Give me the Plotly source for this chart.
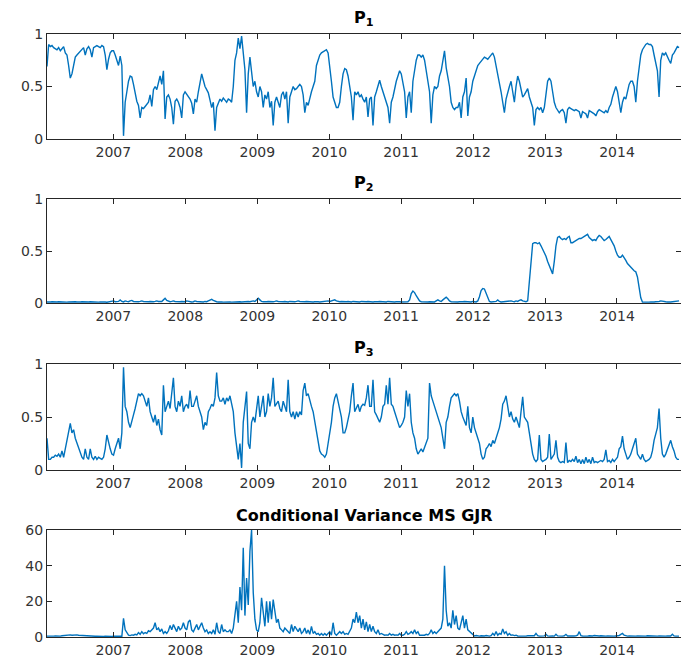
import pandas as pd
import plotly.graph_objects as go

# Smoothed regime probabilities and conditional variance, Jan 2006 - Nov 2014
start_date = "2006-01-29"
end_date = "2014-11-12"
year_ticks = [2007, 2008, 2009, 2010, 2011, 2012, 2013, 2014]
prob_ticks = [0, 0.5, 1]
prob_tick_text = ["0", "0.5", "1"]
var_ticks = [0, 20, 40, 60]

p1 = [
    0.69, 0.90, 0.88, 0.89, 0.87, 0.86, 0.85, 0.87, 0.84, 0.86,
    0.88, 0.82, 0.80, 0.70, 0.58, 0.62, 0.72, 0.78, 0.80, 0.82,
    0.84, 0.86, 0.87, 0.80, 0.86, 0.88, 0.85, 0.78, 0.87, 0.88,
    0.89, 0.88, 0.87, 0.89, 0.88, 0.80, 0.66, 0.76, 0.82, 0.84,
    0.84, 0.80, 0.74, 0.70, 0.79, 0.70, 0.03, 0.35, 0.45, 0.55,
    0.60, 0.59, 0.52, 0.44, 0.36, 0.32, 0.20, 0.30, 0.29, 0.31,
    0.33, 0.35, 0.42, 0.31, 0.47, 0.50, 0.47, 0.55, 0.60, 0.52,
    0.65, 0.19, 0.40, 0.42, 0.38, 0.30, 0.14, 0.36, 0.38, 0.35,
    0.30, 0.20, 0.42, 0.45, 0.43, 0.41, 0.38, 0.34, 0.24, 0.38,
    0.35, 0.45, 0.55, 0.62, 0.56, 0.50, 0.47, 0.44, 0.37, 0.30,
    0.35, 0.08, 0.30, 0.35, 0.38, 0.36, 0.39, 0.37, 0.35, 0.38,
    0.37, 0.35, 0.50, 0.75, 0.82, 0.96, 0.86, 0.98, 0.80, 0.66,
    0.25, 0.62, 0.78, 0.60, 0.50, 0.55, 0.45, 0.40, 0.50, 0.45,
    0.30, 0.42, 0.38, 0.45, 0.30, 0.36, 0.13, 0.35, 0.40, 0.35,
    0.30, 0.42, 0.45, 0.38, 0.45, 0.15, 0.40, 0.45, 0.50, 0.47,
    0.48, 0.50, 0.52, 0.50, 0.42, 0.25, 0.35, 0.32, 0.40, 0.45,
    0.50, 0.55, 0.70, 0.75, 0.80, 0.82, 0.83, 0.84, 0.85, 0.82,
    0.70, 0.55, 0.40, 0.35, 0.30, 0.30, 0.35,
    0.50, 0.62, 0.67, 0.66, 0.60, 0.50, 0.40, 0.18, 0.45, 0.42,
    0.45, 0.40, 0.42, 0.38, 0.35, 0.40, 0.21, 0.38, 0.40, 0.13,
    0.40, 0.45, 0.50, 0.56, 0.50, 0.45, 0.40, 0.35, 0.30, 0.15,
    0.35, 0.40, 0.48, 0.55, 0.60, 0.65, 0.62, 0.55, 0.45, 0.20,
    0.40, 0.45, 0.25, 0.55, 0.65, 0.75, 0.80, 0.80, 0.78, 0.80,
    0.75, 0.65, 0.55, 0.45, 0.15, 0.42, 0.50, 0.48, 0.50, 0.60,
    0.65, 0.75, 0.84, 0.68, 0.60, 0.50, 0.35, 0.30, 0.28, 0.30,
    0.30, 0.35, 0.20, 0.40, 0.45, 0.58, 0.22, 0.40, 0.45, 0.55,
    0.60, 0.65, 0.70, 0.72, 0.74, 0.75, 0.78, 0.77, 0.76, 0.78,
    0.80, 0.82, 0.78, 0.70, 0.60, 0.55, 0.45, 0.35, 0.25, 0.38,
    0.45, 0.50, 0.55, 0.45, 0.35, 0.50, 0.60, 0.55, 0.48, 0.40,
    0.42, 0.45, 0.48, 0.40, 0.35, 0.30, 0.13, 0.28, 0.30, 0.28,
    0.30, 0.25, 0.30, 0.45, 0.55, 0.58, 0.55, 0.45, 0.35, 0.30,
    0.28, 0.25, 0.27, 0.28, 0.25, 0.15, 0.28, 0.30, 0.29, 0.28,
    0.27, 0.28, 0.27, 0.26, 0.20, 0.26, 0.25, 0.24, 0.20, 0.27,
    0.26, 0.25, 0.24, 0.22, 0.26, 0.28, 0.27, 0.26, 0.25, 0.27,
    0.25, 0.30, 0.33, 0.40, 0.45, 0.50, 0.45, 0.35, 0.25, 0.35,
    0.40, 0.38, 0.45, 0.52, 0.55, 0.55, 0.50, 0.35, 0.55, 0.70,
    0.80, 0.85, 0.88, 0.90, 0.91, 0.90, 0.90, 0.88, 0.80, 0.72,
    0.65, 0.40, 0.75, 0.82, 0.80, 0.82, 0.78, 0.75, 0.72, 0.80,
    0.82, 0.85, 0.88, 0.87,
]

p2 = [
    0.010, 0.008, 0.010, 0.012, 0.010, 0.008, 0.010, 0.012, 0.010, 0.010,
    0.012, 0.010, 0.008, 0.010, 0.012, 0.010, 0.010, 0.012, 0.010, 0.008,
    0.010, 0.012, 0.010, 0.010, 0.008, 0.010, 0.012, 0.010, 0.010, 0.012,
    0.010, 0.008, 0.010, 0.012, 0.010, 0.010, 0.008, 0.010, 0.012, 0.015,
    0.020, 0.012, 0.010, 0.015, 0.030, 0.015, 0.010, 0.020, 0.015, 0.012,
    0.020, 0.025, 0.015, 0.012, 0.010, 0.012, 0.015, 0.020, 0.015, 0.012,
    0.010, 0.012, 0.015, 0.010, 0.012, 0.015, 0.020, 0.015, 0.012, 0.015,
    0.030, 0.045, 0.025, 0.015, 0.012, 0.015, 0.020, 0.015, 0.012, 0.010,
    0.012, 0.015, 0.010, 0.012, 0.020, 0.015, 0.012, 0.010, 0.012, 0.020,
    0.015, 0.012, 0.010, 0.012, 0.010, 0.015, 0.012, 0.020, 0.025, 0.035,
    0.025, 0.015, 0.012, 0.010, 0.012, 0.010, 0.008, 0.010, 0.012, 0.010,
    0.010, 0.008, 0.010, 0.012, 0.010, 0.015, 0.012, 0.010, 0.012, 0.015,
    0.020, 0.015, 0.012, 0.015, 0.020, 0.015, 0.030, 0.045, 0.030, 0.015,
    0.012, 0.010, 0.012, 0.015, 0.012, 0.010, 0.012, 0.015, 0.020, 0.015,
    0.012, 0.010, 0.012, 0.015, 0.012, 0.010, 0.015, 0.012, 0.010, 0.012,
    0.015, 0.020, 0.015, 0.012, 0.010, 0.012, 0.015, 0.012, 0.010, 0.012,
    0.010, 0.012, 0.015, 0.012, 0.010, 0.012, 0.015, 0.012, 0.015, 0.020,
    0.015, 0.020, 0.025, 0.030, 0.020, 0.015, 0.012,
    0.015, 0.012, 0.010, 0.012, 0.015, 0.012, 0.010, 0.015, 0.012, 0.010,
    0.012, 0.010, 0.015, 0.012, 0.010, 0.012, 0.015, 0.012, 0.015, 0.010,
    0.012, 0.010, 0.012, 0.015, 0.012, 0.010, 0.012, 0.010, 0.015, 0.012,
    0.010, 0.012, 0.010, 0.012, 0.015, 0.012, 0.010, 0.012, 0.010, 0.012,
    0.012, 0.030, 0.090, 0.115, 0.100, 0.070, 0.045, 0.020, 0.012, 0.010,
    0.010, 0.012, 0.010, 0.012, 0.010, 0.012, 0.010, 0.020, 0.030, 0.020,
    0.015, 0.030, 0.045, 0.055, 0.040, 0.020, 0.012, 0.010, 0.012, 0.010,
    0.010, 0.012, 0.010, 0.012, 0.015, 0.012, 0.010, 0.012, 0.010, 0.015,
    0.012, 0.010, 0.020, 0.060, 0.120, 0.140, 0.135, 0.090, 0.040, 0.015,
    0.010, 0.012, 0.010, 0.015, 0.030, 0.015, 0.010, 0.012, 0.010, 0.015,
    0.012, 0.015, 0.020, 0.015, 0.012, 0.020, 0.015, 0.025, 0.030, 0.020,
    0.015, 0.012, 0.020, 0.200, 0.450, 0.570, 0.580, 0.580, 0.570, 0.580,
    0.550, 0.520, 0.480, 0.450, 0.400, 0.360, 0.310, 0.280, 0.400, 0.550,
    0.630, 0.640, 0.620, 0.610, 0.620, 0.610, 0.630, 0.640, 0.580, 0.580,
    0.590, 0.600, 0.610, 0.620, 0.620, 0.630, 0.640, 0.650, 0.660, 0.630,
    0.610, 0.600, 0.610, 0.600, 0.630, 0.650, 0.640, 0.620, 0.600, 0.610,
    0.630, 0.640, 0.610, 0.580, 0.550, 0.500, 0.460, 0.440, 0.440, 0.460,
    0.440, 0.410, 0.380, 0.360, 0.340, 0.330, 0.310, 0.300, 0.250, 0.150,
    0.050, 0.010, 0.008, 0.008, 0.010, 0.008, 0.010, 0.008, 0.010, 0.012,
    0.010, 0.015, 0.020, 0.015, 0.010, 0.012, 0.010, 0.008, 0.010, 0.012,
    0.015, 0.012, 0.015, 0.020,
]

p3 = [
    0.30, 0.10, 0.10, 0.12, 0.12, 0.14, 0.13, 0.15, 0.12, 0.18,
    0.12, 0.20, 0.30, 0.35, 0.44, 0.35, 0.38, 0.30, 0.25, 0.20,
    0.15, 0.12, 0.10, 0.20, 0.12, 0.10, 0.20, 0.12, 0.10, 0.13,
    0.10, 0.12, 0.11, 0.10, 0.12, 0.20, 0.33, 0.25, 0.20, 0.15,
    0.14, 0.20, 0.25, 0.30, 0.20, 0.35, 0.97, 0.60, 0.55, 0.45,
    0.40, 0.45, 0.52, 0.58, 0.65, 0.72, 0.70, 0.72, 0.70, 0.65,
    0.60, 0.68, 0.55, 0.50, 0.45, 0.52, 0.42, 0.48, 0.38, 0.33,
    0.80, 0.55, 0.60, 0.65, 0.58, 0.70, 0.87, 0.60, 0.55, 0.65,
    0.60, 0.70, 0.55, 0.60, 0.62, 0.58, 0.75, 0.60, 0.60, 0.65,
    0.70, 0.60, 0.55, 0.50, 0.38, 0.45, 0.42, 0.55, 0.58, 0.62,
    0.60, 0.68, 0.92, 0.70, 0.65, 0.65, 0.68, 0.62, 0.68, 0.65,
    0.70, 0.62, 0.55, 0.35, 0.20, 0.10, 0.25, 0.02, 0.45, 0.60,
    0.74, 0.25, 0.20, 0.45, 0.50, 0.45, 0.60, 0.70, 0.50, 0.60,
    0.70, 0.50, 0.55, 0.72, 0.60, 0.68, 0.87, 0.60, 0.62, 0.65,
    0.58, 0.55, 0.65, 0.60, 0.55, 0.85, 0.55, 0.50, 0.55, 0.48,
    0.55, 0.50, 0.55, 0.52, 0.75, 0.82, 0.70, 0.72, 0.65, 0.60,
    0.55, 0.45, 0.35, 0.25, 0.18, 0.15, 0.14, 0.12, 0.15, 0.25,
    0.35, 0.45, 0.60, 0.68, 0.72, 0.65, 0.58,
    0.50, 0.35, 0.35, 0.40, 0.48, 0.55, 0.70, 0.82, 0.55, 0.58,
    0.62, 0.55, 0.60, 0.62, 0.61, 0.68, 0.80, 0.60, 0.60, 0.85,
    0.55, 0.52, 0.48, 0.45, 0.50, 0.60, 0.62, 0.80, 0.62, 0.87,
    0.62, 0.60, 0.55, 0.50, 0.45, 0.40, 0.42, 0.45, 0.50, 0.75,
    0.60, 0.72, 0.45, 0.35, 0.30, 0.20, 0.15, 0.18, 0.20, 0.17,
    0.22, 0.25, 0.30, 0.82, 0.70, 0.65, 0.60, 0.55, 0.50, 0.45,
    0.40, 0.30, 0.20, 0.45, 0.50, 0.60, 0.68, 0.70, 0.72, 0.70,
    0.72, 0.65, 0.55, 0.50, 0.45, 0.42, 0.60, 0.40, 0.35, 0.50,
    0.40, 0.35, 0.30, 0.25, 0.15, 0.10, 0.12, 0.20, 0.22, 0.25,
    0.22, 0.28, 0.25, 0.30, 0.35, 0.40, 0.48, 0.62, 0.65, 0.70,
    0.60, 0.50, 0.55, 0.48, 0.45, 0.50, 0.45, 0.40, 0.55, 0.69,
    0.50, 0.48, 0.45, 0.35, 0.25, 0.15, 0.10, 0.08, 0.10, 0.33,
    0.10, 0.08, 0.09, 0.10, 0.12, 0.34, 0.10, 0.12, 0.15, 0.28,
    0.12, 0.08, 0.07, 0.08, 0.07, 0.26, 0.07, 0.09, 0.08, 0.10,
    0.08, 0.13, 0.07, 0.10, 0.06, 0.10, 0.06, 0.12, 0.07, 0.10,
    0.06, 0.12, 0.07, 0.08, 0.07, 0.08, 0.09, 0.08, 0.10, 0.19,
    0.08, 0.09, 0.07, 0.10, 0.08, 0.10, 0.12, 0.20, 0.22, 0.32,
    0.20, 0.15, 0.10, 0.12, 0.15, 0.20, 0.25, 0.30, 0.15, 0.12,
    0.10, 0.15, 0.10, 0.08, 0.09, 0.10, 0.12, 0.18, 0.28, 0.35,
    0.40, 0.58, 0.30, 0.15, 0.12, 0.15, 0.20, 0.25, 0.28, 0.22,
    0.18, 0.12, 0.10, 0.10,
]

cond_var = [
    0.5, 0.4, 0.5, 0.4, 0.5, 0.6, 0.5, 0.6, 0.5, 0.7,
    0.8, 1.0, 1.2, 1.3, 1.2, 1.0, 1.1, 1.3, 1.2, 1.0,
    0.9, 0.8, 0.7, 0.6, 0.6, 0.5, 0.5, 0.4, 0.5, 0.4,
    0.4, 0.3, 0.4, 0.3, 0.3, 0.4, 0.3, 0.3, 0.4, 0.3,
    0.4, 0.3, 0.4, 0.5, 0.4, 0.4, 10.5, 4.0, 2.0, 1.0,
    0.8, 1.2, 1.0, 1.5, 1.2, 2.5, 1.5, 3.0, 1.8, 2.5,
    2.0, 3.5, 3.0, 4.0, 5.0, 8.0, 4.0, 5.0, 3.0, 4.5,
    2.0, 3.0, 2.0, 3.5, 6.5, 4.0, 7.0, 5.0, 3.0, 6.0,
    4.0, 5.0, 8.0, 5.0, 4.0, 8.5, 9.5, 4.0, 3.0, 5.0,
    7.0, 4.0, 6.0, 8.0, 5.0, 3.0, 4.0, 2.0, 3.0, 2.0,
    4.0, 1.5, 8.0, 3.0, 2.0, 7.0, 3.0, 4.0, 3.0, 3.0,
    4.0, 2.0, 5.0, 12.0, 20.0, 8.0, 28.0, 15.0, 50.0, 12.0,
    33.0, 18.0, 48.0, 60.0, 25.0, 10.0, 4.0, 3.0, 8.0, 22.0,
    12.0, 6.0, 20.0, 8.0, 20.0, 10.0, 21.0, 15.0, 8.0, 10.0,
    5.0, 4.0, 3.0, 5.0, 4.0, 3.0, 2.0, 7.0, 3.0, 6.0,
    4.0, 3.0, 5.0, 2.0, 3.0, 5.0, 2.0, 4.0, 1.5, 6.0,
    2.0, 3.0, 1.5, 2.0, 1.0, 2.0, 1.0, 2.0, 1.0, 2.0,
    3.0, 1.0, 8.0, 2.0, 1.0, 2.0, 3.0,
    2.0, 3.0, 1.5, 2.0, 1.5, 3.0, 5.0, 10.0, 8.0, 14.0,
    8.0, 12.0, 5.0, 10.0, 4.0, 8.5, 3.0, 7.0, 3.0, 6.0,
    3.0, 2.0, 4.0, 1.5, 2.0, 1.5, 1.0, 1.2, 1.0, 2.0,
    1.0, 1.5, 1.0, 1.2, 1.0, 2.0, 1.0, 1.0, 1.5, 3.0,
    1.5, 2.0, 3.0, 2.0, 4.0, 2.0, 3.0, 1.0, 1.0, 1.2,
    1.0, 1.5, 1.2, 2.0, 4.0, 2.0, 3.0, 2.0, 3.0, 4.0,
    5.0, 10.0, 40.0, 15.0, 6.0, 8.0, 5.0, 15.0, 7.0, 12.0,
    5.0, 4.0, 8.0, 12.0, 5.0, 10.0, 4.0, 3.0, 2.0, 1.0,
    0.6, 0.8, 0.6, 0.5, 0.7, 0.5, 0.6, 0.8, 0.6, 0.5,
    0.8, 2.0, 1.0, 3.0, 1.0, 2.0, 1.5, 4.5, 2.0, 3.0,
    1.0, 2.0, 1.0, 1.2, 0.8, 1.0, 0.6, 0.5, 0.6, 0.5,
    0.6, 0.5, 0.7, 0.8, 0.6, 1.0, 0.7, 2.0, 0.8, 0.5,
    0.6, 0.5, 0.6, 1.5, 0.6, 0.5, 0.7, 0.6, 0.5, 1.5,
    0.6, 0.5, 0.6, 0.5, 0.7, 1.5, 0.6, 0.5, 0.6, 0.5,
    0.6, 0.7, 1.0, 3.0, 0.8, 0.6, 0.5, 0.6, 0.5, 0.7,
    0.5, 0.6, 0.8, 0.6, 0.5, 0.6, 0.7, 0.5, 0.6, 0.5,
    0.6, 0.5, 0.6, 0.7, 0.5, 0.6, 0.5, 0.8, 1.5, 2.0,
    1.0, 0.6, 0.5, 0.6, 0.5, 0.6, 0.7, 0.5, 0.6, 0.5,
    0.6, 0.5, 0.6, 0.5, 0.7, 0.6, 0.5, 0.6, 0.5, 0.6,
    0.5, 0.6, 0.5, 0.7, 0.6, 0.5, 0.6, 0.5, 0.6, 1.5,
    0.6, 0.5, 0.6, 0.5,
]

panels = [
    ("<b>P<sub>1</sub></b>", p1, prob_ticks, prob_tick_text, [0, 1]),
    ("<b>P<sub>2</sub></b>", p2, prob_ticks, prob_tick_text, [0, 1]),
    ("<b>P<sub>3</sub></b>", p3, prob_ticks, prob_tick_text, [0, 1]),
    ("<b>Conditional Variance MS GJR</b>", cond_var, var_ticks,
     [str(v) for v in var_ticks], [0, 60]),
]

W, H = 681, 658
# vertical pixel extents (top, bottom) of each axes box
boxes = [(34, 139), (199, 303), (364, 470), (530, 637)]
x_left = 47

LINE = "#0072BD"
AXIS = "#262626"
FONT = "DejaVu Sans"

fig = go.Figure()
annotations = []
for i, (title, series, tvals, ttext, yr) in enumerate(panels):
    n = i + 1
    xa = "x" if n == 1 else f"x{n}"
    ya = "y" if n == 1 else f"y{n}"
    dates = pd.date_range(start_date, end_date, periods=len(series))
    fig.add_trace(go.Scatter(
        x=dates, y=series, mode="lines", xaxis=xa, yaxis=ya,
        line=dict(color=LINE, width=1.4), showlegend=False,
        hoverinfo="skip",
    ))
    top, bot = boxes[i]
    dom_y = [1 - bot / H, 1 - top / H]
    axis_common = dict(
        showline=True, linecolor=AXIS, linewidth=1, mirror="ticks",
        ticks="inside", ticklen=5, tickcolor=AXIS, tickwidth=1,
        showgrid=False, zeroline=False, automargin=False,
        tickfont=dict(family=FONT, size=14, color="#333333"),
    )
    fig.layout[f"xaxis{'' if n == 1 else n}"] = dict(
        domain=[x_left / W, 1.0], anchor=ya,
        range=["2006-01-29", "2014-11-22"],
        tickvals=[f"{y}-01-01" for y in year_ticks],
        ticktext=[str(y) for y in year_ticks],
        **axis_common,
    )
    fig.layout[f"yaxis{'' if n == 1 else n}"] = dict(
        domain=dom_y, anchor=xa, range=yr,
        tickvals=tvals, ticktext=ttext,
        **axis_common,
    )
    annotations.append(dict(
        text=title, xref="paper", yref="paper",
        x=(x_left + W) / 2 / W, y=dom_y[1], xanchor="center",
        yanchor="bottom", yshift=3, showarrow=False,
        font=dict(family=FONT, size=16, color="#000000"),
    ))

fig.update_layout(
    width=W, height=H,
    margin=dict(l=0, r=0, t=0, b=0, autoexpand=False),
    paper_bgcolor="white", plot_bgcolor="white",
    annotations=annotations,
)

fig.write_html("out.html")
